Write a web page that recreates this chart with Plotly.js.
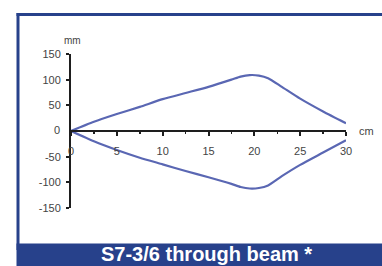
<!DOCTYPE html>
<html><head><meta charset="utf-8">
<script src="https://cdn.plot.ly/plotly-3.0.1.min.js"></script>
<style>html,body{margin:0;padding:0;background:#fff;overflow:hidden}#c{width:382px;height:266px}</style>
</head><body><div id="c"></div>
<script>
const distanceCm = [0, 2.5, 5, 7.5, 10, 12.5, 15, 17.5, 18.5, 19.5, 20.5, 21.5, 23, 25, 27.5, 30];
const upperMm    = [0, 18, 33, 47, 62, 74, 86, 100, 106, 109, 108, 103, 86, 63, 38, 15];
const lowerMm    = [0, -20, -37, -52, -65, -78, -90, -103, -109, -112, -111, -106, -88, -66, -42, -18];
const xTickVals  = [0, 5, 10, 15, 20, 25, 30];
const xTickText  = ['0', '5', '10', '15', '20', '25', '30'];
const yTickVals  = [-150, -100, -50, 0, 50, 100, 150];
const yTickText  = ['-150', '-100', '-50', '0', '50', '100', '150'];
const xUnit = 'cm';
const yUnit = 'mm';
const titleText = 'S7-3/6 through beam *';

const W = 382, H = 266, L = 71, R = 346, T = 54, B = 208;
const px = x => (x - L) / (R - L);
const py = y => (B - y) / (B - T);
const navy = '#27418b';
const lineColor = '#5a67b3';
const axisColor = '#1e1e1e';
const font = {family: 'Liberation Sans, Arial, sans-serif', size: 11, color: '#444'};

const lineStyle = {color: lineColor, width: 2.2, shape: 'spline', smoothing: 0.6};
const traces = [
  {x: distanceCm, y: upperMm, mode: 'lines', line: lineStyle, hoverinfo: 'skip'},
  {x: distanceCm, y: lowerMm, mode: 'lines', line: lineStyle, hoverinfo: 'skip'}
];

const tickCommon = {ticks: 'outside', tickwidth: 2, tickcolor: axisColor, showgrid: false, zeroline: false};
const yNonZeroVals = yTickVals.filter(v => v !== 0);
const yNonZeroText = yTickText.filter(t => t !== '0');
const layout = {
  width: W, height: H,
  margin: {l: L, r: W - R, t: T, b: H - B, pad: 0},
  paper_bgcolor: '#fff', plot_bgcolor: 'rgba(0,0,0,0)',
  showlegend: false,
  xaxis: Object.assign({}, tickCommon, {
    range: [0, 30], anchor: 'free', position: 0.5,
    showline: true, linecolor: axisColor, linewidth: 2,
    ticklen: 4, tickmode: 'array', tickvals: xTickVals, ticktext: xTickText,
    tickfont: font, ticklabelstandoff: 6,
    minor: {dtick: 2.5, ticks: 'outside', ticklen: 2, tickwidth: 1.5, tickcolor: axisColor, showgrid: false}
  }),
  xaxis2: Object.assign({}, tickCommon, {
    range: [0, 30], overlaying: 'x', anchor: 'free', position: 0.5, side: 'top',
    showline: false, ticklen: 4, tickmode: 'array', tickvals: xTickVals, showticklabels: false,
    minor: {dtick: 2.5, ticks: 'outside', ticklen: 2, tickwidth: 1.5, tickcolor: axisColor, showgrid: false}
  }),
  yaxis: Object.assign({}, tickCommon, {
    range: [-150, 150], showline: true, linecolor: axisColor, linewidth: 2,
    ticklen: 3, tickmode: 'array', tickvals: yNonZeroVals, ticktext: yNonZeroText,
    tickfont: font, ticklabelstandoff: 3
  }),
  yaxis2: Object.assign({}, tickCommon, {
    range: [-150, 150], overlaying: 'y', anchor: 'free', position: 0, side: 'right',
    showline: false, ticklen: 3, tickmode: 'array', tickvals: yNonZeroVals, showticklabels: false
  }),
  annotations: [
    {text: yUnit, xref: 'paper', yref: 'paper', x: px(72), y: py(40), showarrow: false, xanchor: 'center', yanchor: 'middle', font: Object.assign({}, font, {size: 10})},
    {text: xUnit, xref: 'paper', yref: 'paper', x: px(357), y: py(131), showarrow: false, xanchor: 'left', yanchor: 'middle', font: font},
    {text: '0', xref: 'paper', yref: 'paper', x: px(62), y: py(130), showarrow: false, xanchor: 'right', yanchor: 'middle', font: font},
    {text: '<b>' + titleText + '</b>', xref: 'paper', yref: 'paper', x: px(206.5), y: py(254), showarrow: false, xanchor: 'center', yanchor: 'middle',
     font: {family: 'Liberation Sans, Arial, sans-serif', size: 20, color: '#fff'}}
  ],
  shapes: [
    {type: 'line', xref: 'paper', yref: 'paper', x0: px(18), x1: px(18), y0: py(13), y1: py(250), line: {color: navy, width: 3}},
    {type: 'line', xref: 'paper', yref: 'paper', x0: px(16.5), x1: px(390), y0: py(14.5), y1: py(14.5), line: {color: navy, width: 3}},
    {type: 'rect', xref: 'paper', yref: 'paper', x0: px(16.5), x1: px(395), y0: py(243.5), y1: py(275), line: {width: 0}, fillcolor: navy}
  ]
};

Plotly.newPlot('c', traces, layout, {staticPlot: true, displayModeBar: false});
</script>
</body></html>
